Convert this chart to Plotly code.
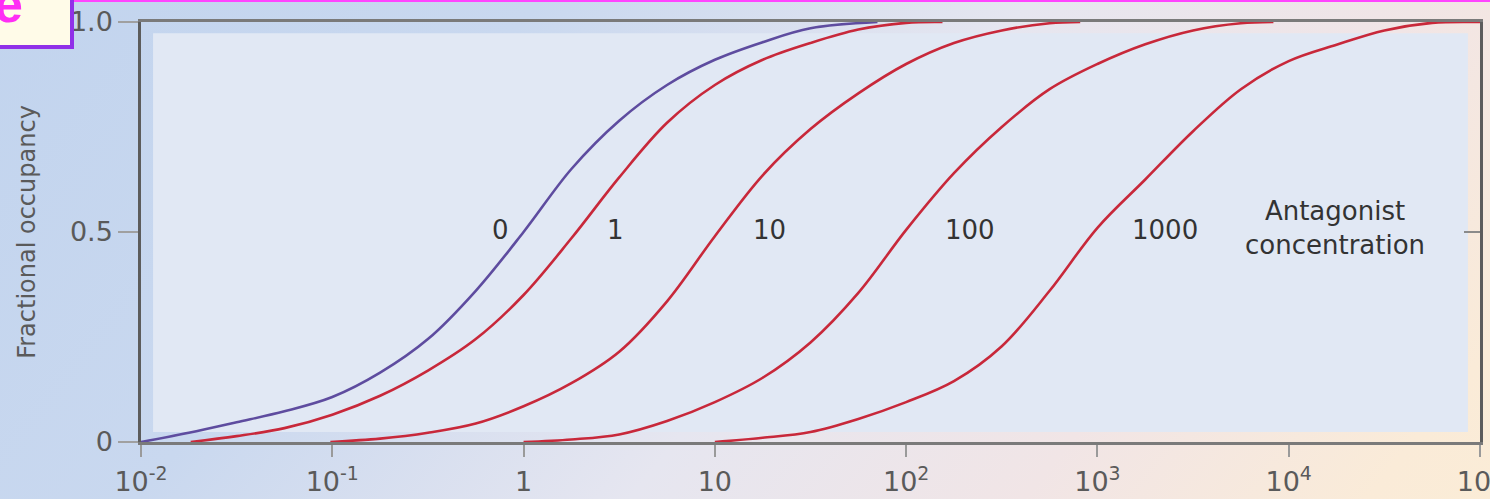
import base64
import plotly.graph_objects as go

# ---- data (x as log10 of agonist concentration) ----
exp_0 = [-2.0, -1.75, -1.5, -1.25, -1.0, -0.75, -0.5, -0.25, 0.0, 0.25, 0.5, 0.75, 1.0, 1.25, 1.5, 1.85]
occ_0 = [0.0, 0.022, 0.047, 0.073, 0.107, 0.165, 0.245, 0.36, 0.5, 0.65, 0.765, 0.85, 0.91, 0.952, 0.985, 1.0]

exp_1 = [-1.74, -1.5, -1.25, -1.0, -0.75, -0.5, -0.25, 0.0, 0.25, 0.5, 0.75, 1.0, 1.25, 1.5, 1.75, 2.0, 2.19]
occ_1 = [0.0, 0.014, 0.033, 0.065, 0.11, 0.17, 0.245, 0.35, 0.485, 0.63, 0.76, 0.85, 0.91, 0.95, 0.982, 0.998, 1.0]

exp_10 = [-1.01, -0.75, -0.5, -0.25, 0.0, 0.25, 0.5, 0.75, 1.0, 1.25, 1.5, 1.75, 2.0, 2.25, 2.5, 2.75, 2.91]
occ_10 = [0.0, 0.008, 0.022, 0.044, 0.085, 0.14, 0.215, 0.335, 0.49, 0.635, 0.745, 0.83, 0.9, 0.95, 0.98, 0.997, 1.0]

exp_100 = [0.0, 0.25, 0.5, 0.75, 1.0, 1.25, 1.5, 1.75, 2.0, 2.25, 2.5, 2.75, 3.0, 3.25, 3.5, 3.75, 3.92]
occ_100 = [0.0, 0.006, 0.018, 0.05, 0.095, 0.153, 0.237, 0.355, 0.505, 0.64, 0.75, 0.84, 0.9, 0.947, 0.98, 0.997, 1.0]

exp_1000 = [1.0, 1.25, 1.5, 1.75, 2.0, 2.25, 2.5, 2.75, 3.0, 3.25, 3.5, 3.75, 4.0, 4.25, 4.5, 4.75, 5.0]
occ_1000 = [0.0, 0.01, 0.024, 0.055, 0.095, 0.145, 0.228, 0.36, 0.51, 0.625, 0.74, 0.84, 0.907, 0.946, 0.98, 0.998, 1.0]

curve_labels = ["0", "1", "10", "100", "1000"]
label_pos = [-0.123, 0.478, 1.288, 2.333, 3.353]   # log10 x positions of the curve labels

x_tickvals = [0.01, 0.1, 1, 10, 100, 1000, 10000, 100000]
x_ticktext = ["10<sup>-2</sup>", "10<sup>-1</sup>", "1", "10", "10<sup>2</sup>",
              "10<sup>3</sup>", "10<sup>4</sup>", "10<sup>5</sup>"]
y_tickvals = [0, 0.5, 1.0]
y_ticktext = ["0", "0.5", "1.0"]

series = [(exp_0, occ_0), (exp_1, occ_1), (exp_10, occ_10), (exp_100, occ_100), (exp_1000, occ_1000)]
colors = ["#5e4c9f", "#c8283a", "#c8283a", "#c8283a", "#c8283a"]

W, H = 1490, 499
L, R, T, B = 141, 10, 22, 57
PW, PH = W - L - R, H - T - B


def px_x(p):
    return (p - L) / PW


def px_y(p):
    return (H - B - p) / PH


FONT = "DejaVu Sans, Arial, sans-serif"

fig = go.Figure()
for (ex, oc), col, name in zip(series, colors, curve_labels):
    fig.add_trace(go.Scatter(
        x=[10 ** e for e in ex], y=oc, mode="lines", name=name,
        line=dict(color=col, width=2.6, shape="spline", smoothing=1.0),
        cliponaxis=False, showlegend=False, hoverinfo="skip"))

# background gradient as an inline SVG image
svg = f'''<svg xmlns="http://www.w3.org/2000/svg" width="{W}" height="{H}" viewBox="0 0 {W} {H}" preserveAspectRatio="none">
<defs><linearGradient id="g" gradientUnits="userSpaceOnUse" x1="0" y1="0" x2="{W}" y2="1200">
<stop offset="0" stop-color="#c2d4ee"/>
<stop offset="0.22" stop-color="#c9d8ef"/>
<stop offset="0.42" stop-color="#e6e6f0"/>
<stop offset="0.58" stop-color="#f1e5e6"/>
<stop offset="0.72" stop-color="#faebd8"/>
<stop offset="1" stop-color="#fdf1d0"/>
</linearGradient></defs>
<rect width="{W}" height="{H}" fill="url(#g)"/></svg>'''
src = "data:image/svg+xml;base64," + base64.b64encode(svg.encode()).decode()

fig.add_layout_image(dict(source=src, xref="paper", yref="paper",
                          x=px_x(0), y=px_y(0), sizex=W / PW, sizey=H / PH,
                          xanchor="left", yanchor="top", sizing="stretch", layer="below"))

# lighter inner panel of the plot area
fig.add_shape(type="rect", xref="x domain", yref="y domain", x0=0.009, x1=0.991, y0=0.024, y1=0.973,
              fillcolor="#e1e8f4", line=dict(width=0), layer="below")

# curve labels
for txt, lp in zip(curve_labels, label_pos):
    fig.add_annotation(x=lp, y=0.505, text=txt, showarrow=False, xref="x", yref="y",
                       font=dict(family=FONT, size=26, color="#333333"))
fig.add_annotation(x=4.24, y=0.51, text="Antagonist<br>concentration", showarrow=False,
                   xref="x", yref="y", align="center",
                   font=dict(family=FONT, size=26, color="#333333"))

# slide decorations: magenta rule at top and the "e" panel label box
fig.add_shape(type="line", xref="paper", yref="paper", x0=px_x(-5), x1=px_x(W + 5),
              y0=px_y(0.5), y1=px_y(0.5), line=dict(color="#ff44ff", width=3))
fig.add_shape(type="rect", xref="paper", yref="paper", x0=px_x(-10), x1=px_x(72),
              y0=px_y(47), y1=px_y(-10),
              fillcolor="#fffbe8", line=dict(color="#9030e8", width=4))
fig.add_annotation(xref="paper", yref="paper", x=px_x(8), y=px_y(4), text="<b>e</b>",
                   showarrow=False, xanchor="center", yanchor="middle",
                   font=dict(family="Liberation Sans, Arial", size=52, color="#ff2ef5"))

fig.update_layout(
    width=W, height=H, margin=dict(l=L, r=R, t=T, b=B, autoexpand=False),
    paper_bgcolor="#c6d6ee", plot_bgcolor="#cfdcf0",
    xaxis=dict(type="log", range=[-2, 5], tickvals=x_tickvals, ticktext=x_ticktext,
               showgrid=False, zeroline=False, showline=True, linecolor="#7a7a7a", linewidth=2.5,
               mirror=True, ticks="outside", ticklen=12, tickwidth=2, tickcolor="#9a9a9a",
               ticklabelstandoff=2, ticklabeloverflow="allow", automargin=False,
               tickfont=dict(family=FONT, size=27, color="#5a5a5a")),
    yaxis=dict(range=[0, 1], tickvals=y_tickvals, ticktext=y_ticktext, automargin=False,
               showgrid=False, zeroline=False, showline=True, linecolor="#5c5c5c", linewidth=2.5,
               mirror=True, ticks="outside", ticklen=20, tickwidth=1.5, tickcolor="#a0a0a0",
               tickfont=dict(family=FONT, size=27, color="#5a5a5a"),
               title=dict(text="Fractional occupancy", standoff=28,
                          font=dict(family=FONT, size=24, color="#5a5a5a"))),
    yaxis2=dict(range=[0, 1], overlaying="y", side="right", tickvals=[0.5], showticklabels=False,
                ticks="inside", ticklen=16, tickwidth=1.5, tickcolor="#8a8a8a", automargin=False,
                showgrid=False, zeroline=False, showline=False),
)
fig.add_trace(go.Scatter(x=[None], y=[None], yaxis="y2", showlegend=False, hoverinfo="skip"))

fig.write_html("out.html", config={"displayModeBar": False},
               post_script="document.body.style.margin='0';document.body.style.overflow='hidden';")
